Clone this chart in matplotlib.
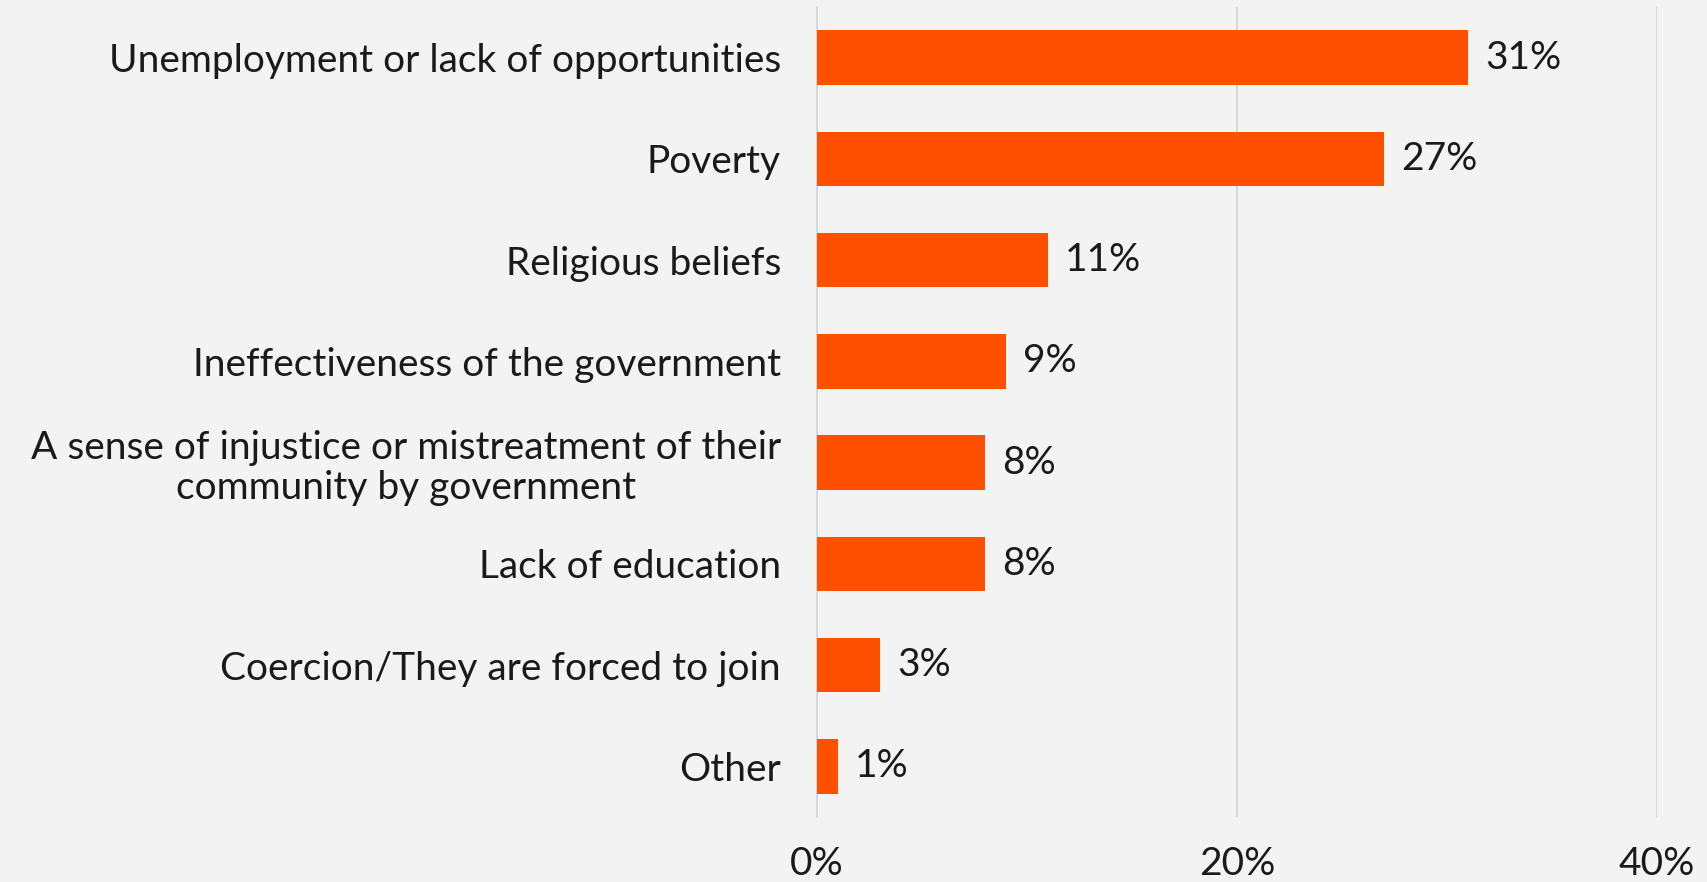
import matplotlib
matplotlib.use("Agg")
import matplotlib.pyplot as plt
from matplotlib.ticker import FuncFormatter

# Reasons people join extremist groups (share of responses, %)
categories = [
    "Unemployment or lack of opportunities",
    "Poverty",
    "Religious beliefs",
    "Ineffectiveness of the government",
    "A sense of injustice or mistreatment of their\ncommunity by government",
    "Lack of education",
    "Coercion/They are forced to join",
    "Other",
]
values = [31, 27, 11, 9, 8, 8, 3, 1]
x_ticks = [0, 20, 40]

BAR_COLOR = "#FF5000"
BG_COLOR = "#F3F3F3"
GRID_COLOR = "#D6D6D6"
TEXT_COLOR = "#1A1A1A"
FONT_SIZE = 28

plt.rcParams["font.family"] = ["Lato", "DejaVu Sans"]
plt.rcParams["font.weight"] = "normal"

fig = plt.figure(figsize=(17.08, 8.82), dpi=100, facecolor=BG_COLOR)
ax = fig.add_axes([817 / 1708, 1 - 817 / 882, 840 / 1708, 810 / 882])
ax.set_facecolor(BG_COLOR)

y = list(range(len(categories)))
ax.barh(y, values, height=0.54, color=BAR_COLOR, zorder=3)

ax.set_xlim(0, 40)
ax.set_ylim(len(categories) - 0.5, -0.5)

ax.set_xticks(x_ticks)
ax.xaxis.set_major_formatter(FuncFormatter(lambda v, _: f"{v:.0f}%"))
ax.grid(axis="x", color=GRID_COLOR, linewidth=1.3, zorder=0)
ax.tick_params(axis="x", length=0, pad=21, labelsize=FONT_SIZE,
               labelcolor=TEXT_COLOR)

ax.set_yticks(y)
ax.set_yticklabels(categories, fontsize=FONT_SIZE, color=TEXT_COLOR,
                   multialignment="center", linespacing=1.15)
ax.tick_params(axis="y", length=0, pad=26)

for side in ("top", "right", "bottom"):
    ax.spines[side].set_visible(False)
ax.spines["left"].set_color(GRID_COLOR)
ax.spines["left"].set_linewidth(1.3)

for yi, v in zip(y, values):
    ax.text(v + 0.8, yi, f"{v}%", va="center", ha="left",
            fontsize=FONT_SIZE, color=TEXT_COLOR)

fig.savefig("out.png", dpi=100, facecolor=BG_COLOR)
